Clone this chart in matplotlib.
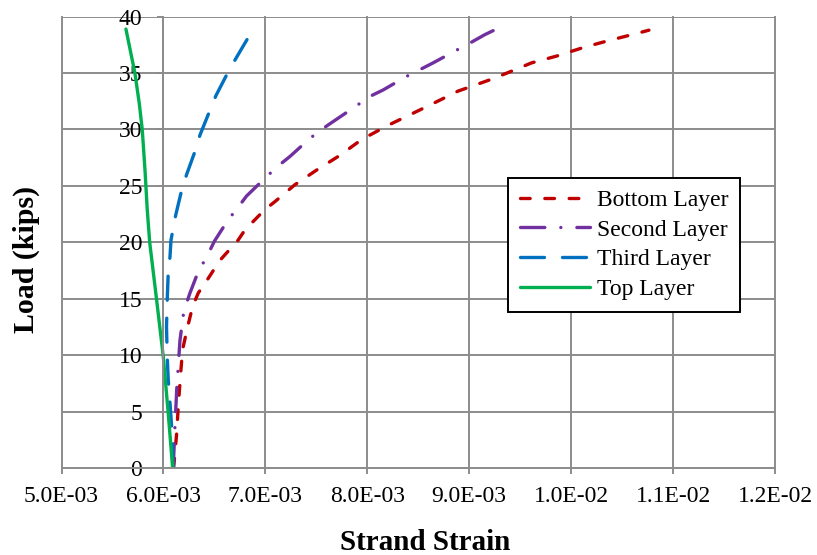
import matplotlib
matplotlib.use("Agg")
import matplotlib.pyplot as plt
from matplotlib.ticker import FuncFormatter

# Load (kips) vs. measured strand strain for each strand layer
load_bottom = [0, 3.1, 5.4, 8.4, 10.5, 12.5, 14.3, 15.5, 16.8, 18.4, 20.2, 21.1,
               22.0, 22.9, 23.6, 25.1, 26.4, 27.7, 29.1, 30.3, 31.3, 32.3, 33.4,
               34.5, 35.4, 35.9, 36.5, 37.3, 37.9, 38.5, 38.8]
strain_bottom = [6.10e-3, 6.13e-3, 6.145e-3, 6.169e-3, 6.188e-3, 6.237e-3, 6.286e-3,
                 6.341e-3, 6.439e-3, 6.554e-3, 6.733e-3, 6.80e-3, 6.897e-3, 6.995e-3,
                 7.093e-3, 7.289e-3, 7.502e-3, 7.73e-3, 7.943e-3, 8.188e-3, 8.417e-3,
                 8.645e-3, 8.89e-3, 9.233e-3, 9.478e-3, 9.61e-3, 9.855e-3, 1.0132e-2,
                 1.0377e-2, 1.0639e-2, 1.0763e-2]

load_second = [0, 3.7, 6.9, 9.0, 11.3, 13.9, 15.5, 17.4, 18.7, 20.1, 22.0, 23.0,
               24.1, 25.8, 26.7, 27.6, 29.2, 30.0, 30.8, 32.1, 32.9, 33.5, 34.7,
               35.3, 35.9, 37.1, 37.7, 38.4, 38.9]
strain_second = [6.096e-3, 6.113e-3, 6.13e-3, 6.145e-3, 6.162e-3, 6.20e-3, 6.26e-3,
                 6.341e-3, 6.424e-3, 6.50e-3, 6.635e-3, 6.724e-3, 6.815e-3, 7.01e-3,
                 7.116e-3, 7.24e-3, 7.436e-3, 7.551e-3, 7.681e-3, 7.894e-3, 8.018e-3,
                 8.155e-3, 8.384e-3, 8.515e-3, 8.645e-3, 8.89e-3, 9.015e-3, 9.152e-3,
                 9.267e-3]

load_third = [0, 3.7, 5.8, 7.8, 9.9, 12.5, 14.9, 17.3, 18.7, 20.2, 22.4, 24.6, 26.0,
              28.3, 29.5, 31.7, 33.0, 35.1, 36.3, 38.4]
strain_third = [6.095e-3, 6.08e-3, 6.064e-3, 6.047e-3, 6.037e-3, 6.03e-3, 6.037e-3,
                6.047e-3, 6.064e-3, 6.074e-3, 6.12e-3, 6.178e-3, 6.227e-3, 6.319e-3,
                6.358e-3, 6.456e-3, 6.515e-3, 6.635e-3, 6.711e-3, 6.848e-3]

load_top = [0, 4.85, 9.9, 14.9, 20.0, 22.9, 26.4, 30.0, 32.3, 35.0, 38.9]
strain_top = [6.09e-3, 6.047e-3, 5.998e-3, 5.933e-3, 5.865e-3, 5.841e-3, 5.819e-3,
              5.792e-3, 5.763e-3, 5.72e-3, 5.632e-3]

x_ticks = [5e-3, 6e-3, 7e-3, 8e-3, 9e-3, 1.0e-2, 1.1e-2, 1.2e-2]
y_ticks = [0, 5, 10, 15, 20, 25, 30, 35, 40]

plt.rcParams["font.family"] = ["Liberation Serif", "DejaVu Serif"]

fig = plt.figure(figsize=(8.17, 5.55), dpi=100)
ax = fig.add_axes([0.0753, 0.1568, 0.8733, 0.8132])

lw = 2.4
ax.plot(strain_bottom, load_bottom, color="#C00000", lw=lw,
        linestyle=(0, (2.9, 4.4)), dash_capstyle="round", label="Bottom Layer")
ax.plot(strain_second, load_second, color="#7030A0", lw=lw,
        linestyle=(0, (7.3, 4.8, 0.01, 4.8)), dash_capstyle="round",
        label="Second Layer")
ax.plot(strain_third, load_third, color="#0070C0", lw=lw,
        linestyle=(0, (7.2, 5.4)), dash_capstyle="round", label="Third Layer")
ax.plot(strain_top, load_top, color="#00B050", lw=lw,
        linestyle="-", solid_capstyle="round", label="Top Layer")

ax.set_xlim(5e-3, 1.2e-2)
ax.set_ylim(0, 40)
ax.set_xticks(x_ticks)
ax.set_yticks(y_ticks)
ax.xaxis.set_major_formatter(FuncFormatter(lambda v, p: f"{v:.1E}"))

grid_color = "#8C8C8C"
ax.grid(True, color=grid_color, linewidth=1.4)
ax.set_axisbelow(True)
for gl in ax.get_xgridlines() + ax.get_ygridlines():
    gl.set_clip_on(False)
for side in ["top", "right"]:
    ax.spines[side].set_visible(False)
# vertical axis crosses the strain axis at 6.0E-03
ax.spines["left"].set_position(("data", 6e-3))
for side in ["left", "bottom"]:
    ax.spines[side].set_color(grid_color)
    ax.spines[side].set_linewidth(1.4)
ax.tick_params(axis="both", colors=grid_color, length=4.3, width=1.4,
               labelcolor="black", labelsize=17)
ax.tick_params(axis="y", pad=11)
ax.tick_params(axis="x", pad=9)

fig.text(425 / 817, 1 - 550 / 555, "Strand Strain", fontsize=21,
         fontweight="bold", ha="center", va="baseline")
fig.text(26 / 817, 1 - 259.5 / 555, "Load (kips)", fontsize=21.5,
         fontweight="bold", ha="center", va="center", rotation=90)

leg = ax.legend(loc="upper left", bbox_to_anchor=(0.626, 0.643), fontsize=17,
                frameon=True, fancybox=False, edgecolor="black",
                handlelength=2.95, handletextpad=0.3, labelspacing=0.34,
                borderpad=0.5, borderaxespad=0, framealpha=1)
leg.get_frame().set_linewidth(1.4)

fig.savefig("out.png", dpi=100, facecolor="white")
